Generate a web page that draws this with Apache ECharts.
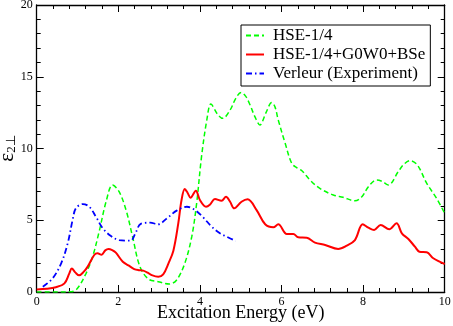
<!DOCTYPE html>
<html>
<head>
<meta charset="utf-8">
<script src="https://cdn.jsdelivr.net/npm/echarts@6/dist/echarts.min.js"></script>
<style>
html,body{margin:0;padding:0;background:#fff;}
#c{width:453px;height:326px;}
</style>
</head>
<body>
<div id="c"></div>
<script>
// Data: [energy (eV), epsilon_2]
var hse = [[0,0],[0.5,0],[0.85,0.02],[1.0,0.26],[1.21,1.3],[1.37,2.46],[1.53,4.2],[1.7,6.29],[1.86,7.46],[2.02,6.99],[2.19,5.71],[2.35,3.85],[2.53,1.77],[2.74,0.9],[2.98,0.72],[3.25,0.56],[3.43,0.84],[3.63,2.0],[3.8,3.85],[3.92,6.18],[4.04,9.43],[4.17,11.99],[4.27,13.1],[4.43,12.4],[4.56,12.1],[4.74,12.68],[4.88,13.5],[5.01,13.9],[5.12,13.65],[5.23,13.03],[5.35,12.2],[5.47,11.64],[5.62,12.5],[5.76,13.2],[5.84,12.9],[5.92,11.99],[6.09,10.36],[6.25,8.97],[6.38,8.65],[6.5,8.45],[6.7,7.8],[6.94,7.22],[7.27,6.76],[7.51,6.6],[7.8,6.36],[7.97,6.64],[8.13,7.34],[8.33,7.8],[8.47,7.7],[8.62,7.46],[8.86,8.38],[9.0,8.9],[9.15,9.15],[9.33,8.85],[9.56,7.57],[9.8,6.53],[10,5.48]];
var hseBse = [[0,0.18],[0.25,0.22],[0.47,0.33],[0.68,0.6],[0.8,1.3],[0.86,1.63],[0.95,1.35],[1.04,1.16],[1.15,1.4],[1.25,1.77],[1.41,2.58],[1.49,2.7],[1.59,2.6],[1.68,2.9],[1.76,3.0],[1.85,2.92],[1.94,2.74],[2.11,2.11],[2.25,1.85],[2.39,1.6],[2.5,1.52],[2.61,1.49],[2.72,1.35],[2.82,1.18],[2.98,1.07],[3.1,1.23],[3.23,2.0],[3.35,2.88],[3.47,4.78],[3.55,6.41],[3.63,7.18],[3.7,6.9],[3.77,6.57],[3.9,7.06],[4.0,6.41],[4.15,5.94],[4.25,6.1],[4.37,6.48],[4.53,6.36],[4.64,6.64],[4.74,6.29],[4.84,5.83],[5.02,6.29],[5.17,6.46],[5.39,5.71],[5.6,4.72],[5.8,4.51],[5.92,4.72],[6.13,4.04],[6.29,4.04],[6.41,3.81],[6.62,3.78],[6.82,3.44],[7.07,3.28],[7.39,3.0],[7.6,3.23],[7.8,3.62],[7.99,4.72],[8.13,4.48],[8.27,4.32],[8.43,4.67],[8.64,4.37],[8.82,4.79],[8.95,4.09],[9.11,3.69],[9.27,3.16],[9.38,2.81],[9.56,2.77],[9.72,2.35],[10,1.95]];
var verleur = [[0.15,0.37],[0.39,0.95],[0.6,2.0],[0.76,3.39],[0.88,5.02],[0.96,5.83],[1.13,6.13],[1.29,5.94],[1.45,5.25],[1.62,4.44],[1.82,3.9],[2.02,3.62],[2.3,3.58],[2.42,4.1],[2.55,4.75],[2.78,4.83],[2.98,4.72],[3.19,5.13],[3.43,5.67],[3.68,5.94],[3.88,5.71],[4.08,5.2],[4.29,4.55],[4.49,4.09],[4.66,3.85],[4.88,3.55]];
var seriesNames = ['HSE-1/4', 'HSE-1/4+G0W0+BSe', 'Verleur (Experiment)'];
var xTicks = {min: 0, max: 10, interval: 2};
var yTicks = {min: 0, max: 20, interval: 5};

var FF = 'Liberation Serif';
var chart = echarts.init(document.getElementById('c'), null, {renderer: 'canvas'});

function axisCommon(showLabel) {
  return {
    axisLine: {show: true, onZero: false, lineStyle: {color: '#000', width: 1.3}},
    axisTick: {show: true, inside: true, length: 7, lineStyle: {color: '#000', width: 1}},
    minorTick: {show: true, splitNumber: 5, length: 4, lineStyle: {color: '#000', width: 1}},
    splitLine: {show: false},
    minorSplitLine: {show: false},
    axisLabel: {show: showLabel, color: '#000', fontFamily: FF, fontSize: 12, margin: 4}
  };
}

var xa0 = Object.assign({type: 'value', position: 'bottom', min: xTicks.min, max: xTicks.max, interval: xTicks.interval,
  name: 'Excitation Energy (eV)', nameLocation: 'middle', nameGap: 12, nameMoveOverlap: false,
  nameTextStyle: {color: '#000', fontFamily: FF, fontSize: 18}}, axisCommon(true));
var xa1 = Object.assign({type: 'value', position: 'top', min: xTicks.min, max: xTicks.max, interval: xTicks.interval}, axisCommon(false));
var ya0 = Object.assign({type: 'value', position: 'left', min: yTicks.min, max: yTicks.max, interval: yTicks.interval,
  name: '{e|ε}{s|2⊥}', nameLocation: 'middle', nameGap: 19, nameRotate: 90, nameMoveOverlap: false,
  nameTextStyle: {color: '#000', fontFamily: FF,
    rich: {e: {fontSize: 21, fontFamily: FF, color: '#000', verticalAlign: 'bottom'},
           s: {fontSize: 13, fontFamily: FF, color: '#000', verticalAlign: 'bottom'}}}}, axisCommon(true));
var ya1 = Object.assign({type: 'value', position: 'right', min: yTicks.min, max: yTicks.max, interval: yTicks.interval}, axisCommon(false));

chart.setOption({
  animation: false,
  backgroundColor: '#fff',
  grid: {left: 36.7, right: 8.3, top: 5, bottom: 34, containLabel: false, outerBoundsMode: 'none'},
  legend: {
    show: true, orient: 'vertical', left: 241, top: 25,
    backgroundColor: '#fff', borderColor: '#000', borderWidth: 1, borderRadius: 0,
    padding: [2, 5, 4, 4], itemWidth: 18, itemHeight: 14, itemGap: 2,
    itemStyle: {opacity: 0},
    textStyle: {color: '#000', fontFamily: FF, fontSize: 17, lineHeight: 16, padding: [0, 0, 0, 4]},
    data: seriesNames
  },
  xAxis: [xa0, xa1],
  yAxis: [ya0, ya1],
  series: [
    {name: seriesNames[0], type: 'line', xAxisIndex: 0, yAxisIndex: 0, data: hse, smooth: 0.35, symbol: 'none', showSymbol: false,
      lineStyle: {color: '#00ff00', width: 1.5, type: [5, 3]}, itemStyle: {color: '#00ff00'}},
    {name: seriesNames[1], type: 'line', xAxisIndex: 0, yAxisIndex: 0, data: hseBse, smooth: 0.35, symbol: 'none', showSymbol: false,
      lineStyle: {color: '#ff0000', width: 2, type: 'solid'}, itemStyle: {color: '#ff0000'}},
    {name: seriesNames[2], type: 'line', xAxisIndex: 0, yAxisIndex: 0, data: verleur, smooth: 0.35, symbol: 'none', showSymbol: false,
      lineStyle: {color: '#0000ff', width: 1.8, type: [6, 3, 1.5, 3]}, itemStyle: {color: '#0000ff'}}
  ]
});
</script>
</body>
</html>
